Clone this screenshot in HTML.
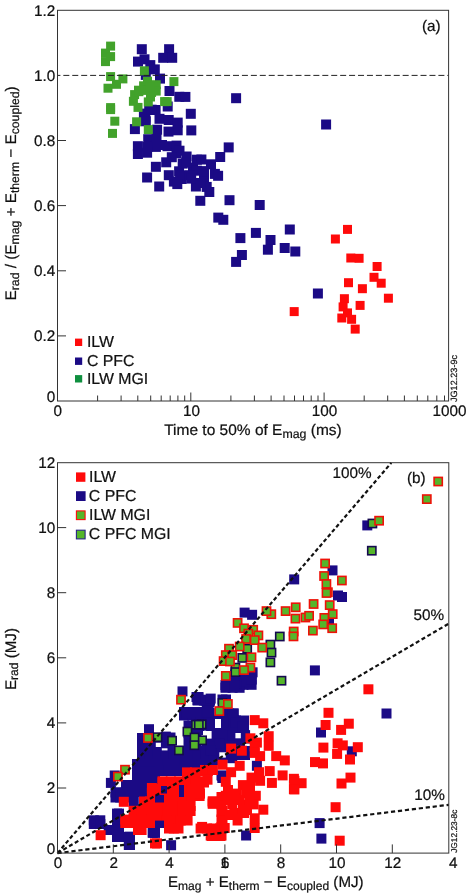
<!DOCTYPE html>
<html><head><meta charset="utf-8"><title>Figure</title>
<style>html,body{margin:0;padding:0;background:#fff}svg{display:block;will-change:transform}</style>
</head><body>
<svg width="466" height="893" viewBox="0 0 466 893" font-family="'Liberation Sans', Arial, sans-serif" font-size="15.3" fill="#111" text-rendering="geometricPrecision"><style>text{stroke:#111;stroke-width:0.22px}</style>
<rect width="466" height="893" fill="#fff"/>
<g id="pa">
<rect x="136.8" y="44.2" width="10" height="10" fill="#1b0a85"/><rect x="133.0" y="56.6" width="10" height="10" fill="#1b0a85"/><rect x="139.5" y="54.3" width="10" height="10" fill="#1b0a85"/><rect x="145.3" y="60.1" width="10" height="10" fill="#1b0a85"/><rect x="149.8" y="64.4" width="10" height="10" fill="#1b0a85"/><rect x="155.0" y="73.6" width="10" height="10" fill="#1b0a85"/><rect x="140.8" y="69.9" width="10" height="10" fill="#1b0a85"/><rect x="164.1" y="44.2" width="10" height="10" fill="#1b0a85"/><rect x="158.2" y="52.8" width="10" height="10" fill="#1b0a85"/><rect x="167.2" y="52.8" width="10" height="10" fill="#1b0a85"/><rect x="164.5" y="86.0" width="10" height="10" fill="#1b0a85"/><rect x="174.3" y="91.8" width="10" height="10" fill="#1b0a85"/><rect x="180.4" y="91.9" width="10" height="10" fill="#1b0a85"/><rect x="162.7" y="101.5" width="10" height="10" fill="#1b0a85"/><rect x="185.8" y="108.8" width="10" height="10" fill="#1b0a85"/><rect x="144.2" y="105.0" width="10" height="10" fill="#1b0a85"/><rect x="150.6" y="105.0" width="10" height="10" fill="#1b0a85"/><rect x="140.3" y="112.5" width="10" height="10" fill="#1b0a85"/><rect x="154.5" y="113.8" width="10" height="10" fill="#1b0a85"/><rect x="163.7" y="115.0" width="10" height="10" fill="#1b0a85"/><rect x="172.7" y="117.6" width="10" height="10" fill="#1b0a85"/><rect x="172.7" y="125.3" width="10" height="10" fill="#1b0a85"/><rect x="152.1" y="124.7" width="10" height="10" fill="#1b0a85"/><rect x="186.3" y="125.4" width="10" height="10" fill="#1b0a85"/><rect x="129.9" y="124.1" width="10" height="10" fill="#1b0a85"/><rect x="163.5" y="126.6" width="10" height="10" fill="#1b0a85"/><rect x="138.9" y="108.6" width="10" height="10" fill="#1b0a85"/><rect x="146.6" y="104.7" width="10" height="10" fill="#1b0a85"/><rect x="140.8" y="116.3" width="10" height="10" fill="#1b0a85"/><rect x="231.1" y="93.2" width="10" height="10" fill="#1b0a85"/><rect x="132.9" y="141.2" width="10" height="10" fill="#1b0a85"/><rect x="132.9" y="149.0" width="10" height="10" fill="#1b0a85"/><rect x="143.2" y="134.2" width="10" height="10" fill="#1b0a85"/><rect x="150.9" y="141.9" width="10" height="10" fill="#1b0a85"/><rect x="142.1" y="147.7" width="10" height="10" fill="#1b0a85"/><rect x="162.5" y="141.2" width="10" height="10" fill="#1b0a85"/><rect x="171.5" y="140.6" width="10" height="10" fill="#1b0a85"/><rect x="171.5" y="148.3" width="10" height="10" fill="#1b0a85"/><rect x="150.9" y="161.8" width="10" height="10" fill="#1b0a85"/><rect x="161.2" y="157.3" width="10" height="10" fill="#1b0a85"/><rect x="142.1" y="172.5" width="10" height="10" fill="#1b0a85"/><rect x="154.2" y="181.5" width="10" height="10" fill="#1b0a85"/><rect x="163.8" y="170.2" width="10" height="10" fill="#1b0a85"/><rect x="174.1" y="166.3" width="10" height="10" fill="#1b0a85"/><rect x="168.9" y="176.6" width="10" height="10" fill="#1b0a85"/><rect x="176.6" y="174.0" width="10" height="10" fill="#1b0a85"/><rect x="174.5" y="145.7" width="10" height="10" fill="#1b0a85"/><rect x="181.6" y="151.5" width="10" height="10" fill="#1b0a85"/><rect x="191.9" y="154.7" width="10" height="10" fill="#1b0a85"/><rect x="196.4" y="154.5" width="10" height="10" fill="#1b0a85"/><rect x="223.7" y="142.4" width="10" height="10" fill="#1b0a85"/><rect x="215.2" y="152.0" width="10" height="10" fill="#1b0a85"/><rect x="206.0" y="159.3" width="10" height="10" fill="#1b0a85"/><rect x="177.7" y="158.6" width="10" height="10" fill="#1b0a85"/><rect x="188.0" y="162.5" width="10" height="10" fill="#1b0a85"/><rect x="191.9" y="165.7" width="10" height="10" fill="#1b0a85"/><rect x="175.1" y="170.8" width="10" height="10" fill="#1b0a85"/><rect x="184.2" y="170.2" width="10" height="10" fill="#1b0a85"/><rect x="209.9" y="168.9" width="10" height="10" fill="#1b0a85"/><rect x="213.1" y="170.8" width="10" height="10" fill="#1b0a85"/><rect x="199.0" y="172.8" width="10" height="10" fill="#1b0a85"/><rect x="190.9" y="181.5" width="10" height="10" fill="#1b0a85"/><rect x="172.3" y="179.1" width="10" height="10" fill="#1b0a85"/><rect x="201.7" y="181.9" width="10" height="10" fill="#1b0a85"/><rect x="204.3" y="187.0" width="10" height="10" fill="#1b0a85"/><rect x="195.3" y="195.8" width="10" height="10" fill="#1b0a85"/><rect x="224.5" y="195.2" width="10" height="10" fill="#1b0a85"/><rect x="213.3" y="212.6" width="10" height="10" fill="#1b0a85"/><rect x="218.3" y="214.8" width="10" height="10" fill="#1b0a85"/><rect x="254.7" y="200.0" width="10" height="10" fill="#1b0a85"/><rect x="284.8" y="224.5" width="10" height="10" fill="#1b0a85"/><rect x="250.9" y="227.9" width="10" height="10" fill="#1b0a85"/><rect x="235.4" y="233.1" width="10" height="10" fill="#1b0a85"/><rect x="265.5" y="235.0" width="10" height="10" fill="#1b0a85"/><rect x="262.9" y="244.7" width="10" height="10" fill="#1b0a85"/><rect x="279.7" y="243.0" width="10" height="10" fill="#1b0a85"/><rect x="290.3" y="246.5" width="10" height="10" fill="#1b0a85"/><rect x="236.9" y="250.0" width="10" height="10" fill="#1b0a85"/><rect x="231.1" y="256.9" width="10" height="10" fill="#1b0a85"/><rect x="312.9" y="288.5" width="10" height="10" fill="#1b0a85"/><rect x="321.1" y="119.5" width="10" height="10" fill="#1b0a85"/><rect x="151.5" y="133.0" width="10" height="10" fill="#1b0a85"/><rect x="142.5" y="142.0" width="10" height="10" fill="#1b0a85"/><rect x="157.0" y="140.0" width="10" height="10" fill="#1b0a85"/><rect x="181.2" y="157.6" width="10" height="10" fill="#1b0a85"/><rect x="199.0" y="166.1" width="10" height="10" fill="#1b0a85"/><rect x="186.2" y="173.6" width="10" height="10" fill="#1b0a85"/><rect x="195.8" y="178.0" width="10" height="10" fill="#1b0a85"/><rect x="166.8" y="152.2" width="10" height="10" fill="#1b0a85"/>
<rect x="343.0" y="224.9" width="9" height="9" fill="#ff0a0a"/><rect x="330.9" y="234.5" width="9" height="9" fill="#ff0a0a"/><rect x="346.3" y="253.5" width="9" height="9" fill="#ff0a0a"/><rect x="354.6" y="253.8" width="9" height="9" fill="#ff0a0a"/><rect x="372.6" y="262.0" width="9" height="9" fill="#ff0a0a"/><rect x="369.5" y="272.8" width="9" height="9" fill="#ff0a0a"/><rect x="376.7" y="278.7" width="9" height="9" fill="#ff0a0a"/><rect x="344.0" y="278.2" width="9" height="9" fill="#ff0a0a"/><rect x="357.9" y="284.2" width="9" height="9" fill="#ff0a0a"/><rect x="383.9" y="293.7" width="9" height="9" fill="#ff0a0a"/><rect x="339.9" y="294.2" width="9" height="9" fill="#ff0a0a"/><rect x="355.6" y="300.9" width="9" height="9" fill="#ff0a0a"/><rect x="338.6" y="302.4" width="9" height="9" fill="#ff0a0a"/><rect x="343.0" y="308.4" width="9" height="9" fill="#ff0a0a"/><rect x="337.3" y="313.5" width="9" height="9" fill="#ff0a0a"/><rect x="347.1" y="314.8" width="9" height="9" fill="#ff0a0a"/><rect x="350.7" y="324.6" width="9" height="9" fill="#ff0a0a"/><rect x="289.7" y="307.1" width="9" height="9" fill="#ff0a0a"/>
<rect x="106.1" y="41.6" width="9" height="9" fill="#42a22b"/><rect x="101.0" y="48.6" width="9" height="9" fill="#42a22b"/><rect x="106.1" y="52.1" width="9" height="9" fill="#42a22b"/><rect x="101.0" y="57.1" width="9" height="9" fill="#42a22b"/><rect x="106.1" y="72.1" width="9" height="9" fill="#42a22b"/><rect x="118.4" y="74.4" width="9" height="9" fill="#42a22b"/><rect x="112.0" y="79.8" width="9" height="9" fill="#42a22b"/><rect x="103.5" y="83.7" width="9" height="9" fill="#42a22b"/><rect x="139.9" y="66.3" width="9" height="9" fill="#42a22b"/><rect x="169.4" y="77.1" width="9" height="9" fill="#42a22b"/><rect x="106.1" y="103.1" width="9" height="9" fill="#42a22b"/><rect x="106.1" y="105.1" width="9" height="9" fill="#42a22b"/><rect x="110.3" y="116.7" width="9" height="9" fill="#42a22b"/><rect x="108.0" y="128.9" width="9" height="9" fill="#42a22b"/><rect x="128.9" y="96.8" width="9" height="9" fill="#42a22b"/><rect x="130.1" y="90.1" width="9" height="9" fill="#42a22b"/><rect x="134.0" y="85.7" width="9" height="9" fill="#42a22b"/><rect x="139.1" y="81.3" width="9" height="9" fill="#42a22b"/><rect x="143.0" y="76.7" width="9" height="9" fill="#42a22b"/><rect x="133.5" y="102.9" width="9" height="9" fill="#42a22b"/><rect x="143.8" y="97.4" width="9" height="9" fill="#42a22b"/><rect x="147.1" y="87.9" width="9" height="9" fill="#42a22b"/><rect x="132.1" y="117.3" width="9" height="9" fill="#42a22b"/><rect x="143.8" y="125.1" width="9" height="9" fill="#42a22b"/><rect x="151.7" y="80.2" width="9" height="9" fill="#42a22b"/><rect x="151.7" y="86.6" width="9" height="9" fill="#42a22b"/><rect x="134.4" y="87.2" width="9" height="9" fill="#42a22b"/><rect x="140.2" y="85.9" width="9" height="9" fill="#42a22b"/><rect x="160.1" y="97.1" width="9" height="9" fill="#42a22b"/><rect x="162.7" y="97.1" width="9" height="9" fill="#42a22b"/><rect x="145.5" y="82.5" width="9" height="9" fill="#42a22b"/><rect x="146.0" y="92.5" width="9" height="9" fill="#42a22b"/>
<line x1="57.5" y1="75.4" x2="448.6" y2="75.4" stroke="#222" stroke-width="1" stroke-dasharray="6,2.93" stroke-dashoffset="3.1"/>
<rect x="57.5" y="10.3" width="391.1" height="390.7" fill="none" stroke="#333" stroke-width="1"/>
<line x1="57.5" y1="335.9" x2="66.0" y2="335.9" stroke="#333" stroke-width="1"/>
<line x1="57.5" y1="270.8" x2="66.0" y2="270.8" stroke="#333" stroke-width="1"/>
<line x1="57.5" y1="205.6" x2="66.0" y2="205.6" stroke="#333" stroke-width="1"/>
<line x1="57.5" y1="140.5" x2="66.0" y2="140.5" stroke="#333" stroke-width="1"/>
<line x1="97.6" y1="401.0" x2="97.6" y2="395.5" stroke="#333" stroke-width="1"/>
<line x1="121.1" y1="401.0" x2="121.1" y2="395.5" stroke="#333" stroke-width="1"/>
<line x1="137.8" y1="401.0" x2="137.8" y2="395.5" stroke="#333" stroke-width="1"/>
<line x1="150.7" y1="401.0" x2="150.7" y2="395.5" stroke="#333" stroke-width="1"/>
<line x1="161.2" y1="401.0" x2="161.2" y2="395.5" stroke="#333" stroke-width="1"/>
<line x1="170.2" y1="401.0" x2="170.2" y2="395.5" stroke="#333" stroke-width="1"/>
<line x1="177.9" y1="401.0" x2="177.9" y2="395.5" stroke="#333" stroke-width="1"/>
<line x1="184.7" y1="401.0" x2="184.7" y2="395.5" stroke="#333" stroke-width="1"/>
<line x1="190.8" y1="401.0" x2="190.8" y2="392.5" stroke="#333" stroke-width="1"/>
<line x1="230.9" y1="401.0" x2="230.9" y2="395.5" stroke="#333" stroke-width="1"/>
<line x1="254.4" y1="401.0" x2="254.4" y2="395.5" stroke="#333" stroke-width="1"/>
<line x1="271.1" y1="401.0" x2="271.1" y2="395.5" stroke="#333" stroke-width="1"/>
<line x1="284.0" y1="401.0" x2="284.0" y2="395.5" stroke="#333" stroke-width="1"/>
<line x1="294.5" y1="401.0" x2="294.5" y2="395.5" stroke="#333" stroke-width="1"/>
<line x1="303.5" y1="401.0" x2="303.5" y2="395.5" stroke="#333" stroke-width="1"/>
<line x1="311.2" y1="401.0" x2="311.2" y2="395.5" stroke="#333" stroke-width="1"/>
<line x1="318.0" y1="401.0" x2="318.0" y2="395.5" stroke="#333" stroke-width="1"/>
<line x1="324.1" y1="401.0" x2="324.1" y2="392.5" stroke="#333" stroke-width="1"/>
<line x1="364.2" y1="401.0" x2="364.2" y2="395.5" stroke="#333" stroke-width="1"/>
<line x1="387.7" y1="401.0" x2="387.7" y2="395.5" stroke="#333" stroke-width="1"/>
<line x1="404.4" y1="401.0" x2="404.4" y2="395.5" stroke="#333" stroke-width="1"/>
<line x1="417.3" y1="401.0" x2="417.3" y2="395.5" stroke="#333" stroke-width="1"/>
<line x1="427.8" y1="401.0" x2="427.8" y2="395.5" stroke="#333" stroke-width="1"/>
<line x1="436.8" y1="401.0" x2="436.8" y2="395.5" stroke="#333" stroke-width="1"/>
<line x1="444.5" y1="401.0" x2="444.5" y2="395.5" stroke="#333" stroke-width="1"/>
<text x="55.3" y="15.7" text-anchor="end">1.2</text>
<text x="55.3" y="80.8" text-anchor="end">1.0</text>
<text x="55.3" y="145.9" text-anchor="end">0.8</text>
<text x="55.3" y="211.0" text-anchor="end">0.6</text>
<text x="55.3" y="276.2" text-anchor="end">0.4</text>
<text x="55.3" y="341.3" text-anchor="end">0.2</text>
<text x="55.3" y="402" text-anchor="end">0</text>
<text x="57.8" y="416.2" text-anchor="middle">0</text>
<text x="191.6" y="416.2" text-anchor="middle">10</text>
<text x="324.4" y="416.2" text-anchor="middle">100</text>
<text x="449.4" y="416.2" text-anchor="middle">1000</text>
<text x="164.2" y="435" textLength="177.6" lengthAdjust="spacingAndGlyphs">Time to 50% of E<tspan font-size="12.2" dy="2.6">mag</tspan><tspan dy="-2.6"> (ms)</tspan></text>
<text transform="translate(15.7,300.4) rotate(-90)" textLength="214" lengthAdjust="spacingAndGlyphs">E<tspan font-size="12.2" dy="3.6">rad</tspan><tspan dy="-3.6"> / (E</tspan><tspan font-size="12.2" dy="3.6">mag</tspan><tspan dy="-3.6"> + E</tspan><tspan font-size="12.2" dy="3.6">therm</tspan><tspan dy="-3.6"> − E</tspan><tspan font-size="12.2" dy="3.6">coupled</tspan><tspan dy="-3.6">)</tspan></text>
<text x="422" y="30.6">(a)</text>
<rect x="75" y="338.6" width="7.2" height="7.4" fill="#ff0a0a"/>
<text x="86.9" y="346.9" font-size="15.85">ILW</text>
<rect x="75" y="357.5" width="7.2" height="7.4" fill="#1b0a85"/>
<text x="86.9" y="365.5" font-size="15.85">C PFC</text>
<rect x="75" y="375.1" width="7.2" height="7.4" fill="#0f8f3f"/>
<text x="86.9" y="383.7" font-size="15.85">ILW MGI</text>
<text transform="translate(456.8,402) rotate(-90)" font-size="9.1">JG12.23-9c</text>
</g>
<g id="pb">
<rect x="230.3" y="669.5" width="10" height="10" fill="#1b0a85"/><rect x="230.3" y="674.6" width="10" height="10" fill="#1b0a85"/><rect x="230.3" y="679.8" width="10" height="10" fill="#1b0a85"/><rect x="238.5" y="669.5" width="10" height="10" fill="#1b0a85"/><rect x="238.5" y="674.6" width="10" height="10" fill="#1b0a85"/><rect x="238.5" y="679.8" width="10" height="10" fill="#1b0a85"/><rect x="246.6" y="669.5" width="10" height="10" fill="#1b0a85"/><rect x="246.6" y="674.6" width="10" height="10" fill="#1b0a85"/><rect x="246.6" y="679.8" width="10" height="10" fill="#1b0a85"/><rect x="220.5" y="680.0" width="10" height="10" fill="#1b0a85"/><rect x="220.5" y="682.8" width="10" height="10" fill="#1b0a85"/><rect x="227.6" y="680.0" width="10" height="10" fill="#1b0a85"/><rect x="227.6" y="682.8" width="10" height="10" fill="#1b0a85"/><rect x="234.6" y="680.0" width="10" height="10" fill="#1b0a85"/><rect x="234.6" y="682.8" width="10" height="10" fill="#1b0a85"/><rect x="193.4" y="692.0" width="10" height="10" fill="#1b0a85"/><rect x="193.4" y="692.5" width="10" height="10" fill="#1b0a85"/><rect x="201.8" y="695.0" width="10" height="10" fill="#1b0a85"/><rect x="201.8" y="697.0" width="10" height="10" fill="#1b0a85"/><rect x="204.5" y="695.0" width="10" height="10" fill="#1b0a85"/><rect x="204.5" y="697.0" width="10" height="10" fill="#1b0a85"/><rect x="217.5" y="694.5" width="10" height="10" fill="#1b0a85"/><rect x="221.0" y="694.5" width="10" height="10" fill="#1b0a85"/><rect x="195.0" y="708.0" width="10" height="10" fill="#1b0a85"/><rect x="199.8" y="708.0" width="10" height="10" fill="#1b0a85"/><rect x="204.5" y="708.0" width="10" height="10" fill="#1b0a85"/><rect x="214.5" y="708.5" width="10" height="10" fill="#1b0a85"/><rect x="214.5" y="715.0" width="10" height="10" fill="#1b0a85"/><rect x="221.6" y="708.5" width="10" height="10" fill="#1b0a85"/><rect x="221.6" y="715.0" width="10" height="10" fill="#1b0a85"/><rect x="228.6" y="708.5" width="10" height="10" fill="#1b0a85"/><rect x="228.6" y="715.0" width="10" height="10" fill="#1b0a85"/><rect x="207.0" y="715.5" width="10" height="10" fill="#1b0a85"/><rect x="215.0" y="715.5" width="10" height="10" fill="#1b0a85"/><rect x="223.0" y="715.5" width="10" height="10" fill="#1b0a85"/><rect x="231.0" y="715.5" width="10" height="10" fill="#1b0a85"/><rect x="239.0" y="715.5" width="10" height="10" fill="#1b0a85"/><rect x="207.0" y="726.5" width="10" height="10" fill="#1b0a85"/><rect x="215.0" y="726.5" width="10" height="10" fill="#1b0a85"/><rect x="223.0" y="726.5" width="10" height="10" fill="#1b0a85"/><rect x="231.0" y="726.5" width="10" height="10" fill="#1b0a85"/><rect x="239.0" y="726.5" width="10" height="10" fill="#1b0a85"/><rect x="225.0" y="722.0" width="10" height="10" fill="#1b0a85"/><rect x="232.0" y="722.0" width="10" height="10" fill="#1b0a85"/><rect x="239.0" y="722.0" width="10" height="10" fill="#1b0a85"/><rect x="206.5" y="722.0" width="10" height="10" fill="#1b0a85"/><rect x="194.5" y="717.6" width="10" height="10" fill="#1b0a85"/><rect x="194.5" y="725.0" width="10" height="10" fill="#1b0a85"/><rect x="192.6" y="695.0" width="10" height="10" fill="#1b0a85"/><rect x="192.6" y="695.5" width="10" height="10" fill="#1b0a85"/><rect x="198.8" y="695.0" width="10" height="10" fill="#1b0a85"/><rect x="198.8" y="695.5" width="10" height="10" fill="#1b0a85"/><rect x="205.0" y="695.0" width="10" height="10" fill="#1b0a85"/><rect x="205.0" y="695.5" width="10" height="10" fill="#1b0a85"/><rect x="179.0" y="707.0" width="10" height="10" fill="#1b0a85"/><rect x="179.0" y="710.5" width="10" height="10" fill="#1b0a85"/><rect x="187.2" y="707.0" width="10" height="10" fill="#1b0a85"/><rect x="187.2" y="710.5" width="10" height="10" fill="#1b0a85"/><rect x="195.4" y="707.0" width="10" height="10" fill="#1b0a85"/><rect x="195.4" y="710.5" width="10" height="10" fill="#1b0a85"/><rect x="203.6" y="707.0" width="10" height="10" fill="#1b0a85"/><rect x="203.6" y="710.5" width="10" height="10" fill="#1b0a85"/><rect x="219.6" y="708.5" width="10" height="10" fill="#1b0a85"/><rect x="219.6" y="715.0" width="10" height="10" fill="#1b0a85"/><rect x="224.1" y="708.5" width="10" height="10" fill="#1b0a85"/><rect x="224.1" y="715.0" width="10" height="10" fill="#1b0a85"/><rect x="228.6" y="708.5" width="10" height="10" fill="#1b0a85"/><rect x="228.6" y="715.0" width="10" height="10" fill="#1b0a85"/><rect x="183.5" y="720.5" width="10" height="10" fill="#1b0a85"/><rect x="183.5" y="728.2" width="10" height="10" fill="#1b0a85"/><rect x="183.5" y="736.0" width="10" height="10" fill="#1b0a85"/><rect x="191.5" y="720.5" width="10" height="10" fill="#1b0a85"/><rect x="191.5" y="728.2" width="10" height="10" fill="#1b0a85"/><rect x="191.5" y="736.0" width="10" height="10" fill="#1b0a85"/><rect x="201.5" y="720.4" width="10" height="10" fill="#1b0a85"/><rect x="205.0" y="720.4" width="10" height="10" fill="#1b0a85"/><rect x="211.3" y="728.0" width="10" height="10" fill="#1b0a85"/><rect x="211.3" y="734.8" width="10" height="10" fill="#1b0a85"/><rect x="211.3" y="741.5" width="10" height="10" fill="#1b0a85"/><rect x="211.3" y="748.2" width="10" height="10" fill="#1b0a85"/><rect x="211.3" y="755.0" width="10" height="10" fill="#1b0a85"/><rect x="215.0" y="728.0" width="10" height="10" fill="#1b0a85"/><rect x="215.0" y="734.8" width="10" height="10" fill="#1b0a85"/><rect x="215.0" y="741.5" width="10" height="10" fill="#1b0a85"/><rect x="215.0" y="748.2" width="10" height="10" fill="#1b0a85"/><rect x="215.0" y="755.0" width="10" height="10" fill="#1b0a85"/><rect x="201.5" y="738.6" width="10" height="10" fill="#1b0a85"/><rect x="201.5" y="746.8" width="10" height="10" fill="#1b0a85"/><rect x="201.5" y="755.0" width="10" height="10" fill="#1b0a85"/><rect x="202.0" y="738.6" width="10" height="10" fill="#1b0a85"/><rect x="202.0" y="746.8" width="10" height="10" fill="#1b0a85"/><rect x="202.0" y="755.0" width="10" height="10" fill="#1b0a85"/><rect x="137.0" y="746.0" width="10" height="10" fill="#1b0a85"/><rect x="137.0" y="750.0" width="10" height="10" fill="#1b0a85"/><rect x="144.9" y="746.0" width="10" height="10" fill="#1b0a85"/><rect x="144.9" y="750.0" width="10" height="10" fill="#1b0a85"/><rect x="152.8" y="746.0" width="10" height="10" fill="#1b0a85"/><rect x="152.8" y="750.0" width="10" height="10" fill="#1b0a85"/><rect x="160.8" y="746.0" width="10" height="10" fill="#1b0a85"/><rect x="160.8" y="750.0" width="10" height="10" fill="#1b0a85"/><rect x="168.7" y="746.0" width="10" height="10" fill="#1b0a85"/><rect x="168.7" y="750.0" width="10" height="10" fill="#1b0a85"/><rect x="176.6" y="746.0" width="10" height="10" fill="#1b0a85"/><rect x="176.6" y="750.0" width="10" height="10" fill="#1b0a85"/><rect x="184.5" y="746.0" width="10" height="10" fill="#1b0a85"/><rect x="184.5" y="750.0" width="10" height="10" fill="#1b0a85"/><rect x="192.5" y="746.0" width="10" height="10" fill="#1b0a85"/><rect x="192.5" y="750.0" width="10" height="10" fill="#1b0a85"/><rect x="200.4" y="746.0" width="10" height="10" fill="#1b0a85"/><rect x="200.4" y="750.0" width="10" height="10" fill="#1b0a85"/><rect x="208.3" y="746.0" width="10" height="10" fill="#1b0a85"/><rect x="208.3" y="750.0" width="10" height="10" fill="#1b0a85"/><rect x="216.2" y="746.0" width="10" height="10" fill="#1b0a85"/><rect x="216.2" y="750.0" width="10" height="10" fill="#1b0a85"/><rect x="224.2" y="746.0" width="10" height="10" fill="#1b0a85"/><rect x="224.2" y="750.0" width="10" height="10" fill="#1b0a85"/><rect x="232.1" y="746.0" width="10" height="10" fill="#1b0a85"/><rect x="232.1" y="750.0" width="10" height="10" fill="#1b0a85"/><rect x="240.0" y="746.0" width="10" height="10" fill="#1b0a85"/><rect x="240.0" y="750.0" width="10" height="10" fill="#1b0a85"/><rect x="137.0" y="759.0" width="10" height="10" fill="#1b0a85"/><rect x="145.5" y="759.0" width="10" height="10" fill="#1b0a85"/><rect x="154.0" y="759.0" width="10" height="10" fill="#1b0a85"/><rect x="162.5" y="759.0" width="10" height="10" fill="#1b0a85"/><rect x="171.0" y="759.0" width="10" height="10" fill="#1b0a85"/><rect x="179.5" y="759.0" width="10" height="10" fill="#1b0a85"/><rect x="188.0" y="759.0" width="10" height="10" fill="#1b0a85"/><rect x="196.5" y="759.0" width="10" height="10" fill="#1b0a85"/><rect x="205.0" y="759.0" width="10" height="10" fill="#1b0a85"/><rect x="161.0" y="732.5" width="10" height="10" fill="#1b0a85"/><rect x="161.0" y="736.0" width="10" height="10" fill="#1b0a85"/><rect x="165.5" y="732.5" width="10" height="10" fill="#1b0a85"/><rect x="165.5" y="736.0" width="10" height="10" fill="#1b0a85"/><rect x="137.0" y="733.0" width="10" height="10" fill="#1b0a85"/><rect x="137.0" y="736.0" width="10" height="10" fill="#1b0a85"/><rect x="144.0" y="733.0" width="10" height="10" fill="#1b0a85"/><rect x="144.0" y="736.0" width="10" height="10" fill="#1b0a85"/><rect x="151.0" y="733.0" width="10" height="10" fill="#1b0a85"/><rect x="151.0" y="736.0" width="10" height="10" fill="#1b0a85"/><rect x="225.0" y="733.5" width="10" height="10" fill="#1b0a85"/><rect x="232.5" y="733.5" width="10" height="10" fill="#1b0a85"/><rect x="240.0" y="733.5" width="10" height="10" fill="#1b0a85"/><rect x="225.0" y="741.0" width="10" height="10" fill="#1b0a85"/><rect x="233.0" y="741.0" width="10" height="10" fill="#1b0a85"/><rect x="223.5" y="749.0" width="10" height="10" fill="#1b0a85"/><rect x="132.0" y="759.0" width="10" height="10" fill="#1b0a85"/><rect x="132.0" y="766.5" width="10" height="10" fill="#1b0a85"/><rect x="132.0" y="774.0" width="10" height="10" fill="#1b0a85"/><rect x="138.0" y="759.0" width="10" height="10" fill="#1b0a85"/><rect x="138.0" y="766.5" width="10" height="10" fill="#1b0a85"/><rect x="138.0" y="774.0" width="10" height="10" fill="#1b0a85"/><rect x="144.0" y="759.0" width="10" height="10" fill="#1b0a85"/><rect x="144.0" y="766.5" width="10" height="10" fill="#1b0a85"/><rect x="144.0" y="774.0" width="10" height="10" fill="#1b0a85"/><rect x="150.0" y="759.0" width="10" height="10" fill="#1b0a85"/><rect x="150.0" y="766.5" width="10" height="10" fill="#1b0a85"/><rect x="150.0" y="774.0" width="10" height="10" fill="#1b0a85"/><rect x="155.0" y="765.0" width="10" height="10" fill="#1b0a85"/><rect x="155.0" y="766.0" width="10" height="10" fill="#1b0a85"/><rect x="163.5" y="765.0" width="10" height="10" fill="#1b0a85"/><rect x="163.5" y="766.0" width="10" height="10" fill="#1b0a85"/><rect x="172.0" y="765.0" width="10" height="10" fill="#1b0a85"/><rect x="172.0" y="766.0" width="10" height="10" fill="#1b0a85"/><rect x="121.0" y="780.0" width="10" height="10" fill="#1b0a85"/><rect x="121.0" y="787.0" width="10" height="10" fill="#1b0a85"/><rect x="129.0" y="780.0" width="10" height="10" fill="#1b0a85"/><rect x="129.0" y="787.0" width="10" height="10" fill="#1b0a85"/><rect x="137.0" y="780.0" width="10" height="10" fill="#1b0a85"/><rect x="137.0" y="787.0" width="10" height="10" fill="#1b0a85"/><rect x="145.0" y="780.0" width="10" height="10" fill="#1b0a85"/><rect x="145.0" y="787.0" width="10" height="10" fill="#1b0a85"/><rect x="110.5" y="787.5" width="10" height="10" fill="#1b0a85"/><rect x="110.5" y="792.5" width="10" height="10" fill="#1b0a85"/><rect x="115.2" y="787.5" width="10" height="10" fill="#1b0a85"/><rect x="115.2" y="792.5" width="10" height="10" fill="#1b0a85"/><rect x="120.0" y="787.5" width="10" height="10" fill="#1b0a85"/><rect x="120.0" y="792.5" width="10" height="10" fill="#1b0a85"/><rect x="112.0" y="808.6" width="10" height="10" fill="#1b0a85"/><rect x="112.0" y="816.4" width="10" height="10" fill="#1b0a85"/><rect x="112.0" y="824.2" width="10" height="10" fill="#1b0a85"/><rect x="112.0" y="832.0" width="10" height="10" fill="#1b0a85"/><rect x="114.0" y="808.6" width="10" height="10" fill="#1b0a85"/><rect x="114.0" y="816.4" width="10" height="10" fill="#1b0a85"/><rect x="114.0" y="824.2" width="10" height="10" fill="#1b0a85"/><rect x="114.0" y="832.0" width="10" height="10" fill="#1b0a85"/><rect x="88.8" y="815.3" width="10" height="10" fill="#1b0a85"/><rect x="88.8" y="819.0" width="10" height="10" fill="#1b0a85"/><rect x="95.3" y="815.3" width="10" height="10" fill="#1b0a85"/><rect x="95.3" y="819.0" width="10" height="10" fill="#1b0a85"/><rect x="103.7" y="825.0" width="10" height="10" fill="#1b0a85"/><rect x="123.8" y="831.8" width="10" height="10" fill="#1b0a85"/><rect x="123.8" y="840.0" width="10" height="10" fill="#1b0a85"/><rect x="125.0" y="831.8" width="10" height="10" fill="#1b0a85"/><rect x="125.0" y="840.0" width="10" height="10" fill="#1b0a85"/><rect x="147.8" y="827.5" width="10" height="10" fill="#1b0a85"/><rect x="147.8" y="827.8" width="10" height="10" fill="#1b0a85"/><rect x="150.0" y="827.5" width="10" height="10" fill="#1b0a85"/><rect x="150.0" y="827.8" width="10" height="10" fill="#1b0a85"/><rect x="166.1" y="840.2" width="10" height="10" fill="#1b0a85"/><rect x="217.3" y="771.0" width="10" height="10" fill="#1b0a85"/><rect x="217.3" y="773.0" width="10" height="10" fill="#1b0a85"/>
<rect x="362.3" y="520.4" width="10" height="10" fill="#1b0a85"/><rect x="289.2" y="574.4" width="10" height="10" fill="#1b0a85"/><rect x="327.5" y="565.4" width="10" height="10" fill="#1b0a85"/><rect x="333.0" y="590.5" width="10" height="10" fill="#1b0a85"/><rect x="337.0" y="592.0" width="10" height="10" fill="#1b0a85"/><rect x="324.0" y="616.2" width="10" height="10" fill="#1b0a85"/><rect x="239.6" y="607.6" width="10" height="10" fill="#1b0a85"/><rect x="247.1" y="609.8" width="10" height="10" fill="#1b0a85"/><rect x="309.9" y="665.4" width="10" height="10" fill="#1b0a85"/><rect x="381.5" y="708.5" width="10" height="10" fill="#1b0a85"/><rect x="316.0" y="727.5" width="10" height="10" fill="#1b0a85"/><rect x="346.8" y="746.3" width="10" height="10" fill="#1b0a85"/><rect x="314.6" y="818.1" width="10" height="10" fill="#1b0a85"/><rect x="316.4" y="833.6" width="10" height="10" fill="#1b0a85"/><rect x="241.1" y="830.5" width="10" height="10" fill="#1b0a85"/><rect x="251.9" y="760.8" width="10" height="10" fill="#1b0a85"/><rect x="227.2" y="753.2" width="10" height="10" fill="#1b0a85"/><rect x="216.5" y="770.4" width="10" height="10" fill="#1b0a85"/><rect x="247.6" y="667.3" width="10" height="10" fill="#1b0a85"/><rect x="241.0" y="671.6" width="10" height="10" fill="#1b0a85"/><rect x="220.8" y="681.8" width="10" height="10" fill="#1b0a85"/><rect x="231.5" y="678.6" width="10" height="10" fill="#1b0a85"/><rect x="241.1" y="676.5" width="10" height="10" fill="#1b0a85"/><rect x="246.5" y="674.3" width="10" height="10" fill="#1b0a85"/><rect x="229.4" y="680.1" width="10" height="10" fill="#1b0a85"/><rect x="220.8" y="697.2" width="10" height="10" fill="#1b0a85"/><rect x="177.5" y="686.4" width="10" height="10" fill="#1b0a85"/><rect x="191.5" y="692.0" width="10" height="10" fill="#1b0a85"/><rect x="204.7" y="695.1" width="10" height="10" fill="#1b0a85"/><rect x="200.5" y="695.6" width="10" height="10" fill="#1b0a85"/><rect x="181.4" y="708.2" width="10" height="10" fill="#1b0a85"/><rect x="201.5" y="709.0" width="10" height="10" fill="#1b0a85"/><rect x="191.0" y="707.0" width="10" height="10" fill="#1b0a85"/><rect x="205.8" y="720.8" width="10" height="10" fill="#1b0a85"/><rect x="200.4" y="694.7" width="10" height="10" fill="#1b0a85"/><rect x="205.7" y="693.6" width="10" height="10" fill="#1b0a85"/><rect x="202.5" y="707.6" width="10" height="10" fill="#1b0a85"/><rect x="220.8" y="708.6" width="10" height="10" fill="#1b0a85"/><rect x="227.2" y="709.7" width="10" height="10" fill="#1b0a85"/><rect x="218.6" y="717.2" width="10" height="10" fill="#1b0a85"/><rect x="230.4" y="717.2" width="10" height="10" fill="#1b0a85"/><rect x="203.6" y="718.3" width="10" height="10" fill="#1b0a85"/><rect x="237.9" y="721.5" width="10" height="10" fill="#1b0a85"/><rect x="207.9" y="728.0" width="10" height="10" fill="#1b0a85"/><rect x="217.0" y="730.0" width="10" height="10" fill="#1b0a85"/><rect x="227.2" y="730.1" width="10" height="10" fill="#1b0a85"/><rect x="240.1" y="730.1" width="10" height="10" fill="#1b0a85"/><rect x="214.3" y="738.7" width="10" height="10" fill="#1b0a85"/><rect x="225.0" y="740.8" width="10" height="10" fill="#1b0a85"/><rect x="205.7" y="745.1" width="10" height="10" fill="#1b0a85"/><rect x="235.0" y="740.0" width="10" height="10" fill="#1b0a85"/><rect x="144.0" y="724.2" width="10" height="10" fill="#1b0a85"/><rect x="137.6" y="739.4" width="10" height="10" fill="#1b0a85"/><rect x="160.8" y="731.6" width="10" height="10" fill="#1b0a85"/><rect x="109.7" y="770.5" width="10" height="10" fill="#1b0a85"/><rect x="105.9" y="777.9" width="10" height="10" fill="#1b0a85"/><rect x="128.8" y="796.8" width="10" height="10" fill="#1b0a85"/><rect x="126.0" y="791.0" width="10" height="10" fill="#1b0a85"/>
<rect x="215" y="719" width="6.0" height="9.0" fill="#fff"/><rect x="203" y="731" width="8.6" height="7.4" fill="#fff"/><rect x="235.4" y="733" width="5.4" height="5.3" fill="#fff"/><rect x="219.3" y="752.3" width="6.5" height="5.3" fill="#fff"/><rect x="155.8" y="742.7" width="5.1" height="4.3" fill="#fff"/><rect x="161.8" y="748.3" width="5.7" height="2.1" fill="#fff"/>
<rect x="146.9" y="783.0" width="10" height="10" fill="#ff0a0a"/><rect x="146.9" y="788.0" width="10" height="10" fill="#ff0a0a"/><rect x="139.0" y="796.5" width="10" height="10" fill="#ff0a0a"/><rect x="139.0" y="798.6" width="10" height="10" fill="#ff0a0a"/><rect x="145.0" y="796.5" width="10" height="10" fill="#ff0a0a"/><rect x="145.0" y="798.6" width="10" height="10" fill="#ff0a0a"/><rect x="128.6" y="805.8" width="10" height="10" fill="#ff0a0a"/><rect x="136.8" y="805.8" width="10" height="10" fill="#ff0a0a"/><rect x="145.0" y="805.8" width="10" height="10" fill="#ff0a0a"/><rect x="120.3" y="814.6" width="10" height="10" fill="#ff0a0a"/><rect x="120.3" y="818.0" width="10" height="10" fill="#ff0a0a"/><rect x="128.5" y="814.6" width="10" height="10" fill="#ff0a0a"/><rect x="128.5" y="818.0" width="10" height="10" fill="#ff0a0a"/><rect x="136.8" y="814.6" width="10" height="10" fill="#ff0a0a"/><rect x="136.8" y="818.0" width="10" height="10" fill="#ff0a0a"/><rect x="145.0" y="814.6" width="10" height="10" fill="#ff0a0a"/><rect x="145.0" y="818.0" width="10" height="10" fill="#ff0a0a"/><rect x="133.0" y="825.0" width="10" height="10" fill="#ff0a0a"/><rect x="136.6" y="825.0" width="10" height="10" fill="#ff0a0a"/><rect x="182.0" y="767.4" width="10" height="10" fill="#ff0a0a"/><rect x="190.0" y="767.4" width="10" height="10" fill="#ff0a0a"/><rect x="200.0" y="765.0" width="10" height="10" fill="#ff0a0a"/><rect x="200.0" y="766.0" width="10" height="10" fill="#ff0a0a"/><rect x="202.8" y="765.0" width="10" height="10" fill="#ff0a0a"/><rect x="202.8" y="766.0" width="10" height="10" fill="#ff0a0a"/><rect x="157.5" y="776.3" width="10" height="10" fill="#ff0a0a"/><rect x="157.5" y="777.5" width="10" height="10" fill="#ff0a0a"/><rect x="165.8" y="776.3" width="10" height="10" fill="#ff0a0a"/><rect x="165.8" y="777.5" width="10" height="10" fill="#ff0a0a"/><rect x="174.1" y="776.3" width="10" height="10" fill="#ff0a0a"/><rect x="174.1" y="777.5" width="10" height="10" fill="#ff0a0a"/><rect x="182.4" y="776.3" width="10" height="10" fill="#ff0a0a"/><rect x="182.4" y="777.5" width="10" height="10" fill="#ff0a0a"/><rect x="190.7" y="776.3" width="10" height="10" fill="#ff0a0a"/><rect x="190.7" y="777.5" width="10" height="10" fill="#ff0a0a"/><rect x="199.0" y="776.3" width="10" height="10" fill="#ff0a0a"/><rect x="199.0" y="777.5" width="10" height="10" fill="#ff0a0a"/><rect x="155.0" y="784.0" width="10" height="10" fill="#ff0a0a"/><rect x="155.0" y="791.0" width="10" height="10" fill="#ff0a0a"/><rect x="162.9" y="784.0" width="10" height="10" fill="#ff0a0a"/><rect x="162.9" y="791.0" width="10" height="10" fill="#ff0a0a"/><rect x="170.8" y="784.0" width="10" height="10" fill="#ff0a0a"/><rect x="170.8" y="791.0" width="10" height="10" fill="#ff0a0a"/><rect x="178.8" y="784.0" width="10" height="10" fill="#ff0a0a"/><rect x="178.8" y="791.0" width="10" height="10" fill="#ff0a0a"/><rect x="186.7" y="784.0" width="10" height="10" fill="#ff0a0a"/><rect x="186.7" y="791.0" width="10" height="10" fill="#ff0a0a"/><rect x="194.6" y="784.0" width="10" height="10" fill="#ff0a0a"/><rect x="194.6" y="791.0" width="10" height="10" fill="#ff0a0a"/><rect x="155.0" y="801.0" width="10" height="10" fill="#ff0a0a"/><rect x="155.0" y="806.0" width="10" height="10" fill="#ff0a0a"/><rect x="162.7" y="801.0" width="10" height="10" fill="#ff0a0a"/><rect x="162.7" y="806.0" width="10" height="10" fill="#ff0a0a"/><rect x="170.3" y="801.0" width="10" height="10" fill="#ff0a0a"/><rect x="170.3" y="806.0" width="10" height="10" fill="#ff0a0a"/><rect x="177.9" y="801.0" width="10" height="10" fill="#ff0a0a"/><rect x="177.9" y="806.0" width="10" height="10" fill="#ff0a0a"/><rect x="185.6" y="801.0" width="10" height="10" fill="#ff0a0a"/><rect x="185.6" y="806.0" width="10" height="10" fill="#ff0a0a"/><rect x="207.6" y="796.5" width="10" height="10" fill="#ff0a0a"/><rect x="207.6" y="798.6" width="10" height="10" fill="#ff0a0a"/><rect x="208.0" y="796.5" width="10" height="10" fill="#ff0a0a"/><rect x="208.0" y="798.6" width="10" height="10" fill="#ff0a0a"/><rect x="216.5" y="792.0" width="10" height="10" fill="#ff0a0a"/><rect x="216.5" y="799.5" width="10" height="10" fill="#ff0a0a"/><rect x="216.5" y="807.0" width="10" height="10" fill="#ff0a0a"/><rect x="216.5" y="814.5" width="10" height="10" fill="#ff0a0a"/><rect x="216.5" y="822.0" width="10" height="10" fill="#ff0a0a"/><rect x="155.0" y="815.5" width="10" height="10" fill="#ff0a0a"/><rect x="161.9" y="815.5" width="10" height="10" fill="#ff0a0a"/><rect x="168.8" y="815.5" width="10" height="10" fill="#ff0a0a"/><rect x="175.7" y="815.5" width="10" height="10" fill="#ff0a0a"/><rect x="182.6" y="815.5" width="10" height="10" fill="#ff0a0a"/><rect x="164.0" y="823.5" width="10" height="10" fill="#ff0a0a"/><rect x="168.8" y="823.5" width="10" height="10" fill="#ff0a0a"/><rect x="173.5" y="823.5" width="10" height="10" fill="#ff0a0a"/><rect x="195.6" y="823.5" width="10" height="10" fill="#ff0a0a"/><rect x="202.1" y="823.5" width="10" height="10" fill="#ff0a0a"/><rect x="208.5" y="823.5" width="10" height="10" fill="#ff0a0a"/><rect x="215.0" y="823.5" width="10" height="10" fill="#ff0a0a"/><rect x="150.0" y="838.4" width="10" height="10" fill="#ff0a0a"/><rect x="152.0" y="838.4" width="10" height="10" fill="#ff0a0a"/><rect x="206.7" y="831.0" width="10" height="10" fill="#ff0a0a"/><rect x="211.1" y="831.0" width="10" height="10" fill="#ff0a0a"/><rect x="215.5" y="831.0" width="10" height="10" fill="#ff0a0a"/>
<rect x="363.4" y="684.3" width="10" height="10" fill="#ff0a0a"/><rect x="323.5" y="707.8" width="10" height="10" fill="#ff0a0a"/><rect x="320.6" y="720.0" width="10" height="10" fill="#ff0a0a"/><rect x="343.8" y="718.7" width="10" height="10" fill="#ff0a0a"/><rect x="336.1" y="724.9" width="10" height="10" fill="#ff0a0a"/><rect x="332.6" y="738.3" width="10" height="10" fill="#ff0a0a"/><rect x="337.8" y="740.4" width="10" height="10" fill="#ff0a0a"/><rect x="352.8" y="742.2" width="10" height="10" fill="#ff0a0a"/><rect x="318.4" y="742.6" width="10" height="10" fill="#ff0a0a"/><rect x="332.1" y="748.9" width="10" height="10" fill="#ff0a0a"/><rect x="345.0" y="754.5" width="10" height="10" fill="#ff0a0a"/><rect x="310.0" y="757.1" width="10" height="10" fill="#ff0a0a"/><rect x="318.0" y="758.4" width="10" height="10" fill="#ff0a0a"/><rect x="345.5" y="772.6" width="10" height="10" fill="#ff0a0a"/><rect x="336.5" y="778.5" width="10" height="10" fill="#ff0a0a"/><rect x="288.9" y="773.8" width="10" height="10" fill="#ff0a0a"/><rect x="296.6" y="778.2" width="10" height="10" fill="#ff0a0a"/><rect x="288.9" y="784.1" width="10" height="10" fill="#ff0a0a"/><rect x="330.6" y="802.2" width="10" height="10" fill="#ff0a0a"/><rect x="334.7" y="835.7" width="10" height="10" fill="#ff0a0a"/><rect x="249.7" y="715.1" width="10" height="10" fill="#ff0a0a"/><rect x="258.3" y="718.3" width="10" height="10" fill="#ff0a0a"/><rect x="263.7" y="731.2" width="10" height="10" fill="#ff0a0a"/><rect x="245.4" y="733.3" width="10" height="10" fill="#ff0a0a"/><rect x="251.9" y="737.6" width="10" height="10" fill="#ff0a0a"/><rect x="263.7" y="740.8" width="10" height="10" fill="#ff0a0a"/><rect x="226.1" y="743.6" width="10" height="10" fill="#ff0a0a"/><rect x="236.8" y="745.7" width="10" height="10" fill="#ff0a0a"/><rect x="249.7" y="741.4" width="10" height="10" fill="#ff0a0a"/><rect x="249.7" y="747.9" width="10" height="10" fill="#ff0a0a"/><rect x="255.1" y="751.1" width="10" height="10" fill="#ff0a0a"/><rect x="271.2" y="751.1" width="10" height="10" fill="#ff0a0a"/><rect x="279.8" y="755.4" width="10" height="10" fill="#ff0a0a"/><rect x="217.5" y="759.7" width="10" height="10" fill="#ff0a0a"/><rect x="234.7" y="760.8" width="10" height="10" fill="#ff0a0a"/><rect x="226.1" y="767.2" width="10" height="10" fill="#ff0a0a"/><rect x="207.9" y="765.0" width="10" height="10" fill="#ff0a0a"/><rect x="202.5" y="774.7" width="10" height="10" fill="#ff0a0a"/><rect x="220.8" y="776.8" width="10" height="10" fill="#ff0a0a"/><rect x="254.0" y="767.2" width="10" height="10" fill="#ff0a0a"/><rect x="264.7" y="766.1" width="10" height="10" fill="#ff0a0a"/><rect x="277.6" y="770.4" width="10" height="10" fill="#ff0a0a"/><rect x="246.5" y="772.6" width="10" height="10" fill="#ff0a0a"/><rect x="255.1" y="775.8" width="10" height="10" fill="#ff0a0a"/><rect x="266.9" y="777.9" width="10" height="10" fill="#ff0a0a"/><rect x="237.9" y="780.1" width="10" height="10" fill="#ff0a0a"/><rect x="289.4" y="775.8" width="10" height="10" fill="#ff0a0a"/><rect x="289.4" y="784.4" width="10" height="10" fill="#ff0a0a"/><rect x="195.0" y="788.6" width="10" height="10" fill="#ff0a0a"/><rect x="220.8" y="790.8" width="10" height="10" fill="#ff0a0a"/><rect x="231.5" y="788.6" width="10" height="10" fill="#ff0a0a"/><rect x="241.1" y="788.6" width="10" height="10" fill="#ff0a0a"/><rect x="250.8" y="790.8" width="10" height="10" fill="#ff0a0a"/><rect x="208.9" y="797.2" width="10" height="10" fill="#ff0a0a"/><rect x="227.2" y="799.4" width="10" height="10" fill="#ff0a0a"/><rect x="237.9" y="799.4" width="10" height="10" fill="#ff0a0a"/><rect x="248.6" y="799.4" width="10" height="10" fill="#ff0a0a"/><rect x="258.3" y="804.7" width="10" height="10" fill="#ff0a0a"/><rect x="217.5" y="805.8" width="10" height="10" fill="#ff0a0a"/><rect x="229.3" y="808.0" width="10" height="10" fill="#ff0a0a"/><rect x="239.0" y="808.0" width="10" height="10" fill="#ff0a0a"/><rect x="217.5" y="815.5" width="10" height="10" fill="#ff0a0a"/><rect x="232.6" y="815.5" width="10" height="10" fill="#ff0a0a"/><rect x="249.7" y="813.3" width="10" height="10" fill="#ff0a0a"/><rect x="249.7" y="823.0" width="10" height="10" fill="#ff0a0a"/><rect x="219.7" y="823.0" width="10" height="10" fill="#ff0a0a"/><rect x="197.1" y="821.9" width="10" height="10" fill="#ff0a0a"/><rect x="205.7" y="830.5" width="10" height="10" fill="#ff0a0a"/><rect x="216.5" y="830.5" width="10" height="10" fill="#ff0a0a"/><rect x="95.6" y="830.2" width="10" height="10" fill="#ff0a0a"/><rect x="118.8" y="796.8" width="10" height="10" fill="#ff0a0a"/><rect x="229.3" y="793.0" width="10" height="10" fill="#ff0a0a"/><rect x="237.9" y="803.7" width="10" height="10" fill="#ff0a0a"/><rect x="244.4" y="795.0" width="10" height="10" fill="#ff0a0a"/><rect x="223.0" y="795.0" width="10" height="10" fill="#ff0a0a"/><rect x="225.0" y="810.0" width="10" height="10" fill="#ff0a0a"/><rect x="234.0" y="795.0" width="10" height="10" fill="#ff0a0a"/><rect x="242.0" y="805.0" width="10" height="10" fill="#ff0a0a"/><rect x="223.0" y="785.0" width="10" height="10" fill="#ff0a0a"/><rect x="245.0" y="782.0" width="10" height="10" fill="#ff0a0a"/>
<rect x="155" y="795" width="9.0" height="7.5" fill="#1b0a85"/><rect x="161" y="786" width="6.0" height="7.5" fill="#1b0a85"/><rect x="179" y="785" width="5.0" height="12.0" fill="#1b0a85"/><rect x="155" y="820.6" width="9.0" height="7.4" fill="#1b0a85"/>
<rect x="368.3" y="519.4" width="8.2" height="8.2" fill="#55b52a" stroke="#14094f" stroke-width="1.6"/><rect x="367.7" y="546.6" width="8.2" height="8.2" fill="#55b52a" stroke="#14094f" stroke-width="1.6"/><rect x="275.7" y="632.4" width="8.2" height="8.2" fill="#55b52a" stroke="#14094f" stroke-width="1.6"/><rect x="266.3" y="640.5" width="8.2" height="8.2" fill="#55b52a" stroke="#14094f" stroke-width="1.6"/><rect x="267.4" y="648.5" width="8.2" height="8.2" fill="#55b52a" stroke="#14094f" stroke-width="1.6"/><rect x="266.3" y="658.3" width="8.2" height="8.2" fill="#55b52a" stroke="#14094f" stroke-width="1.6"/><rect x="243.1" y="644.6" width="8.2" height="8.2" fill="#55b52a" stroke="#14094f" stroke-width="1.6"/><rect x="238.2" y="653.8" width="8.2" height="8.2" fill="#55b52a" stroke="#14094f" stroke-width="1.6"/><rect x="231.3" y="663.5" width="8.2" height="8.2" fill="#55b52a" stroke="#14094f" stroke-width="1.6"/><rect x="231.3" y="668.0" width="8.2" height="8.2" fill="#55b52a" stroke="#14094f" stroke-width="1.6"/><rect x="277.4" y="676.6" width="8.2" height="8.2" fill="#55b52a" stroke="#14094f" stroke-width="1.6"/><rect x="218.4" y="698.9" width="8.2" height="8.2" fill="#55b52a" stroke="#14094f" stroke-width="1.6"/><rect x="197.6" y="720.3" width="8.2" height="8.2" fill="#55b52a" stroke="#14094f" stroke-width="1.6"/><rect x="198.0" y="736.2" width="8.2" height="8.2" fill="#55b52a" stroke="#14094f" stroke-width="1.6"/><rect x="153.4" y="733.1" width="8.2" height="8.2" fill="#55b52a" stroke="#14094f" stroke-width="1.6"/><rect x="168.0" y="736.6" width="8.2" height="8.2" fill="#55b52a" stroke="#14094f" stroke-width="1.6"/><rect x="174.8" y="746.3" width="8.2" height="8.2" fill="#55b52a" stroke="#14094f" stroke-width="1.6"/><rect x="183.3" y="727.5" width="8.2" height="8.2" fill="#55b52a" stroke="#14094f" stroke-width="1.6"/><rect x="191.9" y="720.6" width="8.2" height="8.2" fill="#55b52a" stroke="#14094f" stroke-width="1.6"/><rect x="194.7" y="720.6" width="8.2" height="8.2" fill="#55b52a" stroke="#14094f" stroke-width="1.6"/><rect x="190.4" y="733.4" width="8.2" height="8.2" fill="#55b52a" stroke="#14094f" stroke-width="1.6"/><rect x="190.3" y="741.1" width="8.2" height="8.2" fill="#55b52a" stroke="#14094f" stroke-width="1.6"/>
<rect x="434.1" y="477.4" width="8.2" height="8.2" fill="#55b52a" stroke="#ee1208" stroke-width="1.6"/><rect x="422.7" y="495.0" width="8.2" height="8.2" fill="#55b52a" stroke="#ee1208" stroke-width="1.6"/><rect x="375.0" y="516.6" width="8.2" height="8.2" fill="#55b52a" stroke="#ee1208" stroke-width="1.6"/><rect x="321.0" y="559.4" width="8.2" height="8.2" fill="#55b52a" stroke="#ee1208" stroke-width="1.6"/><rect x="320.0" y="571.9" width="8.2" height="8.2" fill="#55b52a" stroke="#ee1208" stroke-width="1.6"/><rect x="337.8" y="576.4" width="8.2" height="8.2" fill="#55b52a" stroke="#ee1208" stroke-width="1.6"/><rect x="322.3" y="579.9" width="8.2" height="8.2" fill="#55b52a" stroke="#ee1208" stroke-width="1.6"/><rect x="323.8" y="588.1" width="8.2" height="8.2" fill="#55b52a" stroke="#ee1208" stroke-width="1.6"/><rect x="322.4" y="588.9" width="8.2" height="8.2" fill="#55b52a" stroke="#ee1208" stroke-width="1.6"/><rect x="325.6" y="601.0" width="8.2" height="8.2" fill="#55b52a" stroke="#ee1208" stroke-width="1.6"/><rect x="328.6" y="610.0" width="8.2" height="8.2" fill="#55b52a" stroke="#ee1208" stroke-width="1.6"/><rect x="309.5" y="599.9" width="8.2" height="8.2" fill="#55b52a" stroke="#ee1208" stroke-width="1.6"/><rect x="291.6" y="603.2" width="8.2" height="8.2" fill="#55b52a" stroke="#ee1208" stroke-width="1.6"/><rect x="281.5" y="607.0" width="8.2" height="8.2" fill="#55b52a" stroke="#ee1208" stroke-width="1.6"/><rect x="267.2" y="610.1" width="8.2" height="8.2" fill="#55b52a" stroke="#ee1208" stroke-width="1.6"/><rect x="291.3" y="614.5" width="8.2" height="8.2" fill="#55b52a" stroke="#ee1208" stroke-width="1.6"/><rect x="301.3" y="613.4" width="8.2" height="8.2" fill="#55b52a" stroke="#ee1208" stroke-width="1.6"/><rect x="305.0" y="611.7" width="8.2" height="8.2" fill="#55b52a" stroke="#ee1208" stroke-width="1.6"/><rect x="320.2" y="613.8" width="8.2" height="8.2" fill="#55b52a" stroke="#ee1208" stroke-width="1.6"/><rect x="319.1" y="620.3" width="8.2" height="8.2" fill="#55b52a" stroke="#ee1208" stroke-width="1.6"/><rect x="328.1" y="624.1" width="8.2" height="8.2" fill="#55b52a" stroke="#ee1208" stroke-width="1.6"/><rect x="308.8" y="626.5" width="8.2" height="8.2" fill="#55b52a" stroke="#ee1208" stroke-width="1.6"/><rect x="289.6" y="627.4" width="8.2" height="8.2" fill="#55b52a" stroke="#ee1208" stroke-width="1.6"/><rect x="289.4" y="632.3" width="8.2" height="8.2" fill="#55b52a" stroke="#ee1208" stroke-width="1.6"/><rect x="262.4" y="607.0" width="8.2" height="8.2" fill="#55b52a" stroke="#ee1208" stroke-width="1.6"/><rect x="233.5" y="618.8" width="8.2" height="8.2" fill="#55b52a" stroke="#ee1208" stroke-width="1.6"/><rect x="239.9" y="624.2" width="8.2" height="8.2" fill="#55b52a" stroke="#ee1208" stroke-width="1.6"/><rect x="249.1" y="625.7" width="8.2" height="8.2" fill="#55b52a" stroke="#ee1208" stroke-width="1.6"/><rect x="244.2" y="629.5" width="8.2" height="8.2" fill="#55b52a" stroke="#ee1208" stroke-width="1.6"/><rect x="254.3" y="631.3" width="8.2" height="8.2" fill="#55b52a" stroke="#ee1208" stroke-width="1.6"/><rect x="242.0" y="634.9" width="8.2" height="8.2" fill="#55b52a" stroke="#ee1208" stroke-width="1.6"/><rect x="250.6" y="636.0" width="8.2" height="8.2" fill="#55b52a" stroke="#ee1208" stroke-width="1.6"/><rect x="224.9" y="644.6" width="8.2" height="8.2" fill="#55b52a" stroke="#ee1208" stroke-width="1.6"/><rect x="235.6" y="642.4" width="8.2" height="8.2" fill="#55b52a" stroke="#ee1208" stroke-width="1.6"/><rect x="258.1" y="643.5" width="8.2" height="8.2" fill="#55b52a" stroke="#ee1208" stroke-width="1.6"/><rect x="221.7" y="651.0" width="8.2" height="8.2" fill="#55b52a" stroke="#ee1208" stroke-width="1.6"/><rect x="228.1" y="651.0" width="8.2" height="8.2" fill="#55b52a" stroke="#ee1208" stroke-width="1.6"/><rect x="219.5" y="657.0" width="8.2" height="8.2" fill="#55b52a" stroke="#ee1208" stroke-width="1.6"/><rect x="225.9" y="657.4" width="8.2" height="8.2" fill="#55b52a" stroke="#ee1208" stroke-width="1.6"/><rect x="247.4" y="653.2" width="8.2" height="8.2" fill="#55b52a" stroke="#ee1208" stroke-width="1.6"/><rect x="246.3" y="663.5" width="8.2" height="8.2" fill="#55b52a" stroke="#ee1208" stroke-width="1.6"/><rect x="239.9" y="666.0" width="8.2" height="8.2" fill="#55b52a" stroke="#ee1208" stroke-width="1.6"/><rect x="221.7" y="671.8" width="8.2" height="8.2" fill="#55b52a" stroke="#ee1208" stroke-width="1.6"/><rect x="223.8" y="699.9" width="8.2" height="8.2" fill="#55b52a" stroke="#ee1208" stroke-width="1.6"/><rect x="215.2" y="707.0" width="8.2" height="8.2" fill="#55b52a" stroke="#ee1208" stroke-width="1.6"/><rect x="176.9" y="695.6" width="8.2" height="8.2" fill="#55b52a" stroke="#ee1208" stroke-width="1.6"/><rect x="143.9" y="733.9" width="8.2" height="8.2" fill="#55b52a" stroke="#ee1208" stroke-width="1.6"/><rect x="120.9" y="765.6" width="8.2" height="8.2" fill="#55b52a" stroke="#ee1208" stroke-width="1.6"/><rect x="113.8" y="772.5" width="8.2" height="8.2" fill="#55b52a" stroke="#ee1208" stroke-width="1.6"/>
<line x1="57.5" y1="853.1" x2="391.3" y2="462.8" stroke="#111" stroke-width="2.2" stroke-dasharray="3.9,2.5"/>
<line x1="57.5" y1="853.1" x2="448.8" y2="623.6" stroke="#111" stroke-width="2.2" stroke-dasharray="4.05,2.65"/>
<line x1="57.5" y1="853.1" x2="448.8" y2="804.8" stroke="#111" stroke-width="2.2" stroke-dasharray="4.2,2.8"/>
<rect x="57.5" y="462.7" width="391.3" height="390.40000000000003" fill="none" stroke="#333" stroke-width="1"/>
<line x1="57.5" y1="788.0" x2="66.2" y2="788.0" stroke="#333" stroke-width="1"/>
<line x1="57.5" y1="722.9" x2="66.2" y2="722.9" stroke="#333" stroke-width="1"/>
<line x1="57.5" y1="657.8" x2="66.2" y2="657.8" stroke="#333" stroke-width="1"/>
<line x1="57.5" y1="592.7" x2="66.2" y2="592.7" stroke="#333" stroke-width="1"/>
<line x1="57.5" y1="527.6" x2="66.2" y2="527.6" stroke="#333" stroke-width="1"/>
<line x1="113.3" y1="853.1" x2="113.3" y2="844.4" stroke="#333" stroke-width="1"/>
<line x1="169.1" y1="853.1" x2="169.1" y2="844.4" stroke="#333" stroke-width="1"/>
<line x1="224.9" y1="853.1" x2="224.9" y2="844.4" stroke="#333" stroke-width="1"/>
<line x1="280.7" y1="853.1" x2="280.7" y2="844.4" stroke="#333" stroke-width="1"/>
<line x1="336.5" y1="853.1" x2="336.5" y2="844.4" stroke="#333" stroke-width="1"/>
<line x1="392.3" y1="853.1" x2="392.3" y2="844.4" stroke="#333" stroke-width="1"/>
<text x="55.3" y="467.9" text-anchor="end">12</text>
<text x="55.3" y="533.0" text-anchor="end">10</text>
<text x="55.3" y="598.1" text-anchor="end">8</text>
<text x="55.3" y="663.2" text-anchor="end">6</text>
<text x="55.3" y="728.3" text-anchor="end">4</text>
<text x="55.3" y="793.4" text-anchor="end">2</text>
<text x="55.3" y="854.4" text-anchor="end">0</text>
<text x="57.9" y="868.4" text-anchor="middle">0</text>
<text x="113.7" y="868.4" text-anchor="middle">2</text>
<text x="169.5" y="868.4" text-anchor="middle">4</text>
<text x="225.3" y="868.4" text-anchor="middle">6</text>
<text x="281.1" y="868.4" text-anchor="middle">8</text>
<text x="336.9" y="868.4" text-anchor="middle">10</text>
<text x="392.7" y="868.4" text-anchor="middle">12</text>
<text x="224.6" y="868.4" text-anchor="middle">1</text>
<text x="449" y="868.4">4</text>
<text x="168" y="887" textLength="195.6" lengthAdjust="spacingAndGlyphs">E<tspan font-size="12.2" dy="2.6">mag</tspan><tspan dy="-2.6"> + E</tspan><tspan font-size="12.2" dy="2.6">therm</tspan><tspan dy="-2.6"> − E</tspan><tspan font-size="12.2" dy="2.6">coupled</tspan><tspan dy="-2.6"> (MJ)</tspan></text>
<text transform="translate(16.3,690) rotate(-90)" textLength="62" lengthAdjust="spacingAndGlyphs">E<tspan font-size="12.2" dy="2">rad</tspan><tspan dy="-2"> (MJ)</tspan></text>
<text x="407" y="483">(b)</text>
<text x="332.6" y="478.2">100%</text>
<text x="413.6" y="619.6">50%</text>
<text x="414.2" y="800">10%</text>
<rect x="76" y="472.4" width="9.4" height="9.4" fill="#ff0a0a"/><text x="89" y="482.3" font-size="15.85">ILW</text>
<rect x="76" y="491.2" width="9.6" height="9.8" fill="#1b0a85"/><text x="88.8" y="501.2" font-size="15.85">C PFC</text>
<rect x="76.4" y="510.9" width="8.7" height="8.7" fill="#55b52a" stroke="#ff0a0a" stroke-width="1.1"/><text x="89" y="520.1" font-size="15.85">ILW MGI</text>
<rect x="76.4" y="530.2" width="8.7" height="8.7" fill="#55b52a" stroke="#2a2486" stroke-width="1.1"/><text x="88.8" y="539" font-size="15.85">C PFC MGI</text>
<text transform="translate(457.3,852.8) rotate(-90)" font-size="8.35">JG12.23-8c</text>
</g>
</svg>
</body></html>
